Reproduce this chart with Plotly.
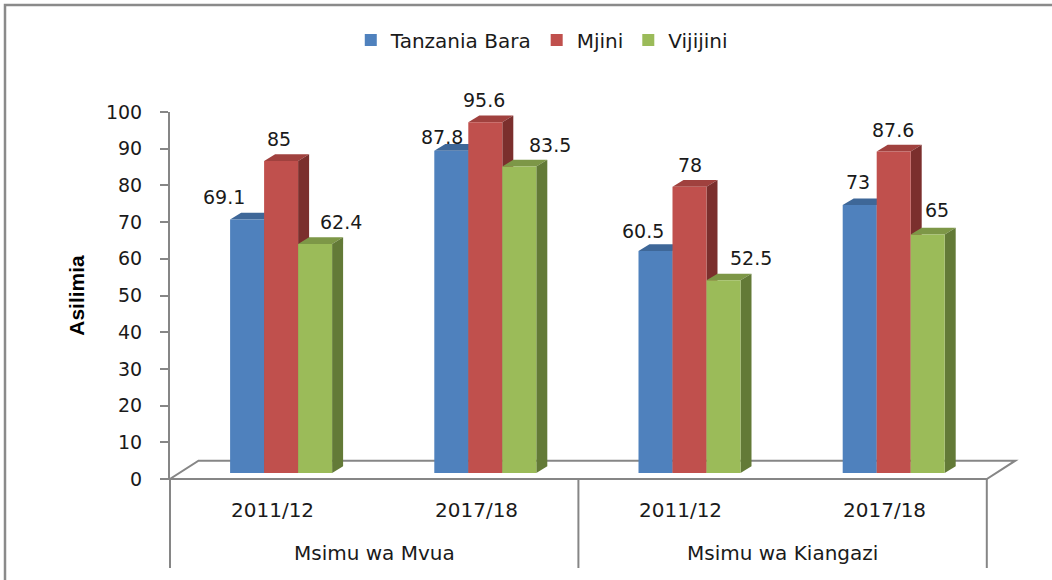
import plotly.graph_objects as go

# ---------------- data ----------------
periods = ["2011/12", "2017/18", "2011/12", "2017/18"]
seasons = ["Msimu wa Mvua", "Msimu wa Kiangazi"]
series_names = ["Tanzania Bara", "Mjini", "Vijijini"]
tanzania_bara = [69.1, 87.8, 60.5, 73]
mjini = [85, 95.6, 78, 87.6]
vijijini = [62.4, 83.5, 52.5, 65]
y_ticks = [0, 10, 20, 30, 40, 50, 60, 70, 80, 90, 100]
y_title = "Asilimia"

series_values = [tanzania_bara, mjini, vijijini]

# ---------------- style ----------------
front_colors = ["#4F81BD", "#C0504D", "#9BBB59"]
top_colors = ["#3E6798", "#A0413E", "#7D9747"]
side_colors = ["#30507A", "#7B2F2D", "#637A37"]
label_dx = [[-23, -9, -13, -2], [-2, -1, 0, -1], [26, 31, 27, 9]]
label_dy = [[22, 14, 20, 23], [22, 22, 22, 22], [22, 22, 22, 24]]

W, H = 1052, 580
L, R, T, B = 170, 1016, 112, 479       # plot area in pixels
CAT_PX = 204.2                          # pixels per category
Y_PX = (B - T) / 100.0                  # pixels per unit
x_min = -0.5
x_max = x_min + (R - L) / CAT_PX

def ux(px):
    return px / CAT_PX

def uy(px):
    return px / Y_PX

def xp(x):
    return (x - x_min) / (x_max - x_min)

def yp(y):
    return y / 100.0

bar_w = ux(34)
shift = ux(9)
base = uy(6)
dx, dy = ux(11), uy(6.7)
floor_dx, floor_dy = ux(28.5), uy(18.3)
axis_grey = "#868686"

fig = go.Figure()
shapes = []
annotations = []

for s, (name, vals) in enumerate(zip(series_names, series_values)):
    xs = [g + shift + (s - 1) * bar_w for g in range(len(vals))]
    fig.add_trace(go.Bar(
        x=xs, y=vals, base=base, width=bar_w, name=name,
        marker=dict(color=front_colors[s], line=dict(width=0)),
        customdata=[[periods[i], v] for i, v in enumerate(vals)],
        hovertemplate="%{customdata[0]}: %{customdata[1]}<extra>" + name + "</extra>",
    ))
    for i, (xc, v) in enumerate(zip(xs, vals)):
        x0, x1 = xc - bar_w / 2, xc + bar_w / 2
        top = base + v
        # top face
        shapes.append(dict(
            type="path", xref="x", yref="y", layer="below",
            path=f"M{x0},{top} L{x1},{top} L{x1+dx},{top+dy} L{x0+dx},{top+dy} Z",
            fillcolor=top_colors[s], line=dict(width=0)))
        # side face
        shapes.append(dict(
            type="path", xref="x", yref="y", layer="below",
            path=f"M{x1},{base} L{x1},{top} L{x1+dx},{top+dy} L{x1+dx},{base+dy} Z",
            fillcolor=side_colors[s], line=dict(width=0)))
        annotations.append(dict(
            x=xc, y=top, xref="x", yref="y", text=f"{v:g}", showarrow=False,
            xanchor="center", yanchor="middle", xshift=label_dx[s][i], yshift=label_dy[s][i],
            font=dict(family="DejaVu Sans", size=19, color="#1a1a1a")))

# floor (paper coordinates so it is not clipped)
n = len(periods)
fx0, fx1 = x_min, x_min + n
floor_path = (f"M{xp(fx0)},{yp(0)} L{xp(fx1)},{yp(0)} L{xp(fx1+floor_dx)},{yp(floor_dy)} "
              f"L{xp(fx0+floor_dx)},{yp(floor_dy)} Z")
shapes.insert(0, dict(type="path", xref="paper", yref="paper", layer="below",
                      path=floor_path, fillcolor="white",
                      line=dict(color=axis_grey, width=2)))

# category separators below the axis
sep_bottom = -(568 - B) / (B - T)
for xs_ in [x_min, x_min + 2, x_min + 4]:
    shapes.append(dict(type="line", xref="paper", yref="paper",
                       x0=xp(xs_), x1=xp(xs_), y0=0, y1=sep_bottom,
                       line=dict(color=axis_grey, width=2)))

# outer chart border
shapes.append(dict(type="rect", xref="paper", yref="paper",
                   x0=(5 - L) / (R - L), x1=(W + 20 - L) / (R - L),
                   y0=(B - 5) / (B - T), y1=-(H + 20 - B) / (B - T),
                   line=dict(color="#8a8a8a", width=2.5), fillcolor="rgba(0,0,0,0)"))

# category labels
for i, p in enumerate(periods):
    annotations.append(dict(x=i, y=-(510 - B) / (B - T), xref="x", yref="paper",
                            text=p, showarrow=False, xanchor="center", yanchor="middle",
                            font=dict(family="DejaVu Sans", size=20, color="#1a1a1a")))
for j, sname in enumerate(seasons):
    annotations.append(dict(x=2 * j + 0.5, y=-(553 - B) / (B - T), xref="x", yref="paper",
                            text=sname, showarrow=False, xanchor="center", yanchor="middle",
                            font=dict(family="DejaVu Sans", size=20, color="#1a1a1a")))

fig.update_layout(
    width=W, height=H,
    margin=dict(l=L, r=W - R, t=T, b=H - B, pad=0),
    paper_bgcolor="white", plot_bgcolor="rgba(0,0,0,0)",
    barmode="overlay", showlegend=True,
    legend=dict(orientation="h", xref="container", yref="container",
                x=0.515, xanchor="center", y=1 - 40 / H, yanchor="middle",
                font=dict(family="DejaVu Sans", size=20, color="#1a1a1a"),
                bgcolor="rgba(0,0,0,0)", itemwidth=30),
    xaxis=dict(range=[x_min, x_max], showgrid=False, zeroline=False, showline=False,
               showticklabels=False, ticks="", fixedrange=True),
    yaxis=dict(range=[0, 100], tickvals=y_ticks, showgrid=False, zeroline=False,
               showline=True, linecolor=axis_grey, linewidth=2,
               ticks="outside", ticklen=8, tickwidth=2, tickcolor=axis_grey,
               ticklabelstandoff=14,
               tickfont=dict(family="DejaVu Sans", size=19, color="#1a1a1a"),
               title=dict(text=y_title, standoff=16,
                          font=dict(family="Liberation Sans", size=21, color="#000000", weight="bold")),
               fixedrange=True),
    shapes=shapes,
    annotations=annotations,
)

fig.write_html("out.html", config={"displayModeBar": False},
               post_script="document.body.style.margin='0';document.body.style.overflow='hidden';")
